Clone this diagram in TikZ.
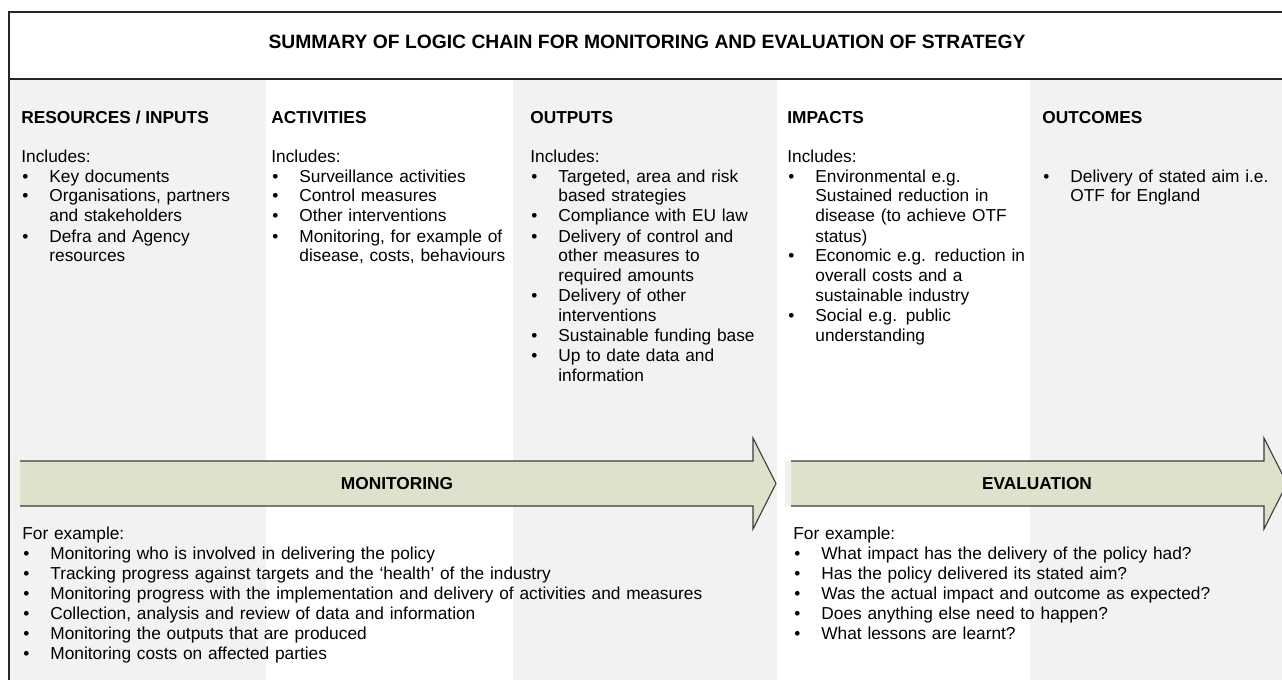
\documentclass[tikz,border=0pt]{standalone}
\usepackage{fontspec}
\setmainfont{Liberation Sans}
\usetikzlibrary{positioning}

\definecolor{colgray}{RGB}{242,242,242}
\definecolor{arrowfill}{RGB}{221,226,205}
\definecolor{arrowline}{RGB}{60,60,60}

% bullet item with hanging indent
\newcommand{\itm}[1]{\par\hangindent=14pt\hangafter=1\noindent\makebox[14pt][l]{\hspace{0.5pt}\textbullet}#1\par}

\begin{document}
\begin{tikzpicture}[x=0.5pt,y=-0.5pt,
	every node/.style={inner sep=0pt,font=\fontsize{8.65pt}{10pt}\selectfont},
	titletext/.style={font=\fontsize{9.65pt}{11pt}\selectfont\bfseries},
	colhead/.style={anchor=base west,font=\fontsize{8.65pt}{10pt}\selectfont\bfseries},
	collist/.style={anchor=base west,text width=130pt,align=left},
	arrowlabel/.style={font=\fontsize{8.65pt}{10pt}\selectfont\bfseries},
	frame/.style={line width=0.7pt,black!85},
	outline/.style={line width=0.55pt,arrowline}]

	% frame and column shading
	\useasboundingbox (0,0) rectangle (1282,680);
	\clip (0,0) rectangle (1282,680);
	\fill[colgray]    (9,79) rectangle  (266,690);
	\fill[colgray]  (513,79) rectangle  (777,690);
	\fill[colgray] (1030,79) rectangle (1300,690);
	\draw[frame] (9,690) -- (9,12) -- (1300,12);
	\draw[frame] (9,79) -- (1300,79);

	% arrows
	\fill[arrowfill] (14,461) -- (753,461) -- (753,438) -- (776,483.5) -- (753,529) -- (753,506) -- (14,506) -- cycle;
	\fill[arrowfill!45!white] (14,461) rectangle (20,506);
	\draw[outline] (20,461) -- (753,461) -- (753,438) -- (776,483.5) -- (753,529) -- (753,506) -- (20,506);
	\fill[arrowfill] (785,461) -- (1264,461) -- (1264,438) -- (1287,483.5) -- (1264,529) -- (1264,506) -- (785,506) -- cycle;
	\fill[arrowfill!45!white] (785,461) rectangle (791,506);
	\draw[outline] (791,461) -- (1264,461) -- (1264,438) -- (1287,483.5) -- (1264,529) -- (1264,506) -- (791,506);

	% node definitions
	\node[titletext] (title) at (647,42) {SUMMARY OF LOGIC CHAIN FOR MONITORING AND EVALUATION OF STRATEGY};

	\node[colhead]  (res_head) at   (21,123) {RESOURCES / INPUTS};
	\node[colhead]  (act_head) at  (271,123) {ACTIVITIES};
	\node[colhead]  (out_head) at  (530,123) {OUTPUTS};
	\node[colhead]  (imp_head) at  (787,123) {IMPACTS};
	\node[colhead] (outc_head) at (1042,123) {OUTCOMES};

	\node[collist] (res_list) at (21,162) {Includes:
		\itm{Key documents}
		\itm{Organisations, partners\newline and stakeholders}
		\itm{Defra and Agency\newline resources}};
	\node[collist] (act_list) at (271,162) {Includes:
		\itm{Surveillance activities}
		\itm{Control measures}
		\itm{Other interventions}
		\itm{Monitoring, for example of\newline disease, costs, behaviours}};
	\node[collist] (out_list) at (530,162) {Includes:
		\itm{Targeted, area and risk\newline based strategies}
		\itm{Compliance with EU law}
		\itm{Delivery of control and\newline other measures to\newline required amounts}
		\itm{Delivery of other\newline interventions}
		\itm{Sustainable funding base}
		\itm{Up to date data and\newline information}};
	\node[collist] (imp_list) at (787,162) {Includes:
		\itm{Environmental e.g.\newline Sustained reduction in\newline disease (to achieve OTF\newline status)}
		\itm{Economic e.g. reduction in\newline overall costs and a\newline sustainable industry}
		\itm{Social e.g. public\newline understanding}};
	\node[collist] (outc_list) at (1042,162) {\itm{Delivery of stated aim i.e.\newline OTF for England}};

	\node[arrowlabel]  (mon) at  (397,483.5) {MONITORING};
	\node[arrowlabel] (eval) at (1037,483.5) {EVALUATION};

	\node[collist,text width=370pt] (mon_list) at (22,539) {For example:
		\itm{Monitoring who is involved in delivering the policy}
		\itm{Tracking progress against targets and the `health' of the industry}
		\itm{Monitoring progress with the implementation and delivery of activities and measures}
		\itm{Collection, analysis and review of data and information}
		\itm{Monitoring the outputs that are produced}
		\itm{Monitoring costs on affected parties}};
	\node[collist,text width=240pt] (eval_list) at (793,539) {For example:
		\itm{What impact has the delivery of the policy had?}
		\itm{Has the policy delivered its stated aim?}
		\itm{Was the actual impact and outcome as expected?}
		\itm{Does anything else need to happen?}
		\itm{What lessons are learnt?}};

\end{tikzpicture}
\end{document}
